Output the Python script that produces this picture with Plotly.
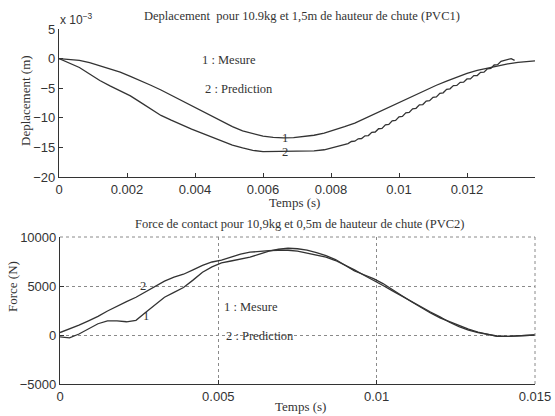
import plotly.graph_objects as go

# ---- Top chart: displacement (x 10^-3 m) ----
t_dep_mes = [0, 0.0003, 0.0006, 0.0009, 0.0012, 0.0015, 0.0018, 0.0021, 0.0024, 0.0027,
             0.003, 0.0033, 0.0036, 0.0039, 0.0042, 0.0045, 0.0048, 0.0051, 0.0054, 0.0057,
             0.006, 0.0063, 0.0066, 0.0069, 0.0072, 0.0075, 0.0078, 0.0081, 0.0084, 0.0087,
             0.009, 0.0093, 0.0096, 0.0099, 0.0102, 0.0105, 0.0108, 0.0111, 0.0114, 0.0117,
             0.012, 0.0123, 0.0126, 0.0129, 0.0132, 0.0135, 0.0138, 0.014]
dep_mes = [0, -0.1, -0.3, -0.7, -1.2, -1.7, -2.3, -3.0, -3.7, -4.5,
           -5.3, -6.2, -7.0, -7.9, -8.8, -9.7, -10.6, -11.5, -12.2, -12.7,
           -13.1, -13.3, -13.4, -13.35, -13.2, -12.95, -12.6, -12.1, -11.5, -10.9,
           -10.1, -9.2, -8.4, -7.6, -6.8, -6.0, -5.2, -4.5, -3.8, -3.1,
           -2.5, -2.0, -1.6, -1.25, -0.9, -0.65, -0.45, -0.4]

t_dep_pred = [0, 0.0003, 0.0006, 0.0009, 0.0012, 0.0015, 0.0018, 0.0021, 0.0024, 0.0027,
              0.003, 0.0033, 0.0036, 0.0039, 0.0042, 0.0045, 0.0048, 0.0051, 0.0054, 0.0057,
              0.006, 0.0065, 0.007, 0.0075, 0.0078, 0.008, 0.0082,
              0.0085, 0.0086, 0.0087, 0.0088, 0.0089, 0.0090, 0.0091, 0.0092, 0.0093, 0.0094,
              0.0095, 0.0096, 0.0097, 0.0098, 0.0099, 0.0100, 0.0101, 0.0102, 0.0103, 0.0104,
              0.0105, 0.0106, 0.0107, 0.0108, 0.0109, 0.0110, 0.0111, 0.0112, 0.0113, 0.0114,
              0.0115, 0.0116, 0.0117, 0.0118, 0.0119, 0.0120, 0.0121, 0.0122, 0.0123, 0.0124,
              0.0125, 0.0126, 0.0127, 0.0128, 0.0129, 0.0130, 0.0131, 0.0132, 0.0133, 0.0134]
dep_pred = [0, -0.7, -1.5, -2.6, -3.7, -4.6, -5.4, -6.3, -7.4, -8.5,
            -9.6, -10.4, -11.2, -11.9, -12.6, -13.3, -14.0, -14.6, -15.1, -15.5,
            -15.7, -15.7, -15.7, -15.6, -15.4, -15.1, -14.8,
            -14.35, -14.0, -13.95, -13.55, -13.5, -13.05, -13.0, -12.45, -12.4, -11.85,
            -11.8, -11.2, -11.12, -10.52, -10.44, -9.84, -9.76, -9.16, -9.08, -8.48,
            -8.4, -7.82, -7.76, -7.18, -7.12, -6.54, -6.46, -5.86, -5.78, -5.18,
            -5.1, -4.56, -4.54, -4.0, -3.98, -3.44, -3.42, -2.88, -2.86, -2.32,
            -2.3, -1.72, -1.66, -1.08, -1.02, -0.45, -0.30, -0.05, 0.0, -0.3]

dep_xticks = [0, 0.002, 0.004, 0.006, 0.008, 0.010, 0.012]
dep_xtext = ["0", "0.002", "0.004", "0.006", "0.008", "0.01", "0.012"]
dep_yticks = [-20, -15, -10, -5, 0, 5]
dep_ytext = ["−20", "−15", "−10", "−5", "0", "5"]

# ---- Bottom chart: contact force (N) ----
t_force = [0, 0.0003, 0.0006, 0.0009, 0.0012, 0.0015, 0.0018, 0.0021, 0.0024, 0.0027,
           0.003, 0.0033, 0.0036, 0.0039, 0.0042, 0.0045, 0.0048, 0.0051, 0.0054, 0.0057,
           0.006, 0.0063, 0.0066, 0.0069, 0.0072, 0.0075, 0.0078, 0.0081, 0.0084, 0.0087,
           0.009, 0.0093, 0.0096, 0.0099, 0.0102, 0.0105, 0.0108, 0.0111, 0.0114, 0.0117,
           0.012, 0.0123, 0.0126, 0.0129, 0.0132, 0.0135, 0.0138, 0.0141, 0.0145, 0.015]
force_mes = [-200, -300, 100, 600, 1150, 1450, 1450, 1350, 1500, 2300,
             3100, 3850, 4350, 4850, 5600, 6400, 6950, 7350, 7550, 7750,
             7950, 8250, 8550, 8750, 8850, 8800, 8650, 8400, 8100, 7700,
             7150, 6550, 6150, 5750, 5250, 4600, 4000, 3400, 2800, 2250,
             1750, 1350, 950, 600, 300, 50, -150, -150, -50, 0]
force_pred = [250, 600, 1000, 1450, 1900, 2450, 2950, 3400, 3850, 4400,
              5000, 5500, 5900, 6200, 6650, 7100, 7450, 7650, 7950, 8250,
              8450, 8550, 8600, 8650, 8650, 8550, 8350, 8150, 7950, 7600,
              7150, 6650, 6100, 5600, 5050, 4500, 3950, 3450, 2900, 2350,
              1850, 1300, 850, 500, 250, 50, -100, -150, -50, 0]

force_xticks = [0, 0.005, 0.010, 0.015]
force_xtext = ["0", "0.005", "0.01", "0.015"]
force_yticks = [-5000, 0, 5000, 10000]
force_ytext = ["−5000", "0", "5000", "10000"]

INK = "#333333"
SERIF = "Liberation Serif"
SANS = "Liberation Sans"

fig = go.Figure()
line_style = dict(color=INK, width=1.3)
fig.add_trace(go.Scatter(x=t_dep_mes, y=dep_mes, mode="lines", line=line_style, xaxis="x", yaxis="y"))
fig.add_trace(go.Scatter(x=t_dep_pred, y=dep_pred, mode="lines", line=line_style, xaxis="x", yaxis="y"))
fig.add_trace(go.Scatter(x=t_force, y=force_mes, mode="lines", line=line_style, xaxis="x2", yaxis="y2"))
fig.add_trace(go.Scatter(x=t_force, y=force_pred, mode="lines", line=line_style, xaxis="x2", yaxis="y2"))

W, H = 555, 416
def px(x):
    return x / W
def py(y):
    return 1 - y / H

axis_common = dict(showline=True, linecolor=INK, linewidth=1.2, ticks="inside", ticklen=4,
                   tickcolor=INK, tickfont=dict(family=SANS, size=13, color=INK),
                   zeroline=False, fixedrange=True, automargin=False)
GRID = "#8a8a8a"

fig.update_layout(
    width=W, height=H, margin=dict(l=0, r=0, t=0, b=0),
    paper_bgcolor="white", plot_bgcolor="white", showlegend=False,
    xaxis=dict(domain=[px(59), px(535)], range=[0, 0.014], anchor="y",
               tickvals=dep_xticks, ticktext=dep_xtext, showgrid=False,
               **axis_common),
    yaxis=dict(domain=[py(177), py(29)], range=[-20, 5], anchor="x",
               tickvals=dep_yticks, ticktext=dep_ytext, showgrid=False,
               **axis_common),
    xaxis2=dict(domain=[px(60), px(535)], range=[0, 0.015], anchor="y2",
                tickvals=force_xticks, ticktext=force_xtext, showgrid=True,
                gridcolor=GRID, griddash="dot", gridwidth=1,
                **axis_common),
    yaxis2=dict(domain=[py(384), py(237)], range=[-5000, 10000], anchor="x2",
                tickvals=force_yticks, ticktext=force_ytext, showgrid=True,
                gridcolor=GRID, griddash="dot", gridwidth=1,
                **axis_common),
)

# dotted frame edges of the lower chart (top and right), like its grid
fig.add_shape(type="line", xref="x2 domain", yref="y2 domain", x0=0, x1=1, y0=1, y1=1,
              line=dict(color=GRID, width=1, dash="dot"))
fig.add_shape(type="line", xref="x2 domain", yref="y2 domain", x0=1, x1=1, y0=0, y1=1,
              line=dict(color=GRID, width=1, dash="dot"))

small_font = dict(family=SERIF, size=12.5, color=INK)
label_font = dict(family=SERIF, size=13, color=INK)
annotations = [
    dict(text="Deplacement  pour 10.9kg et 1,5m de hauteur de chute (PVC1)", xref="paper", yref="paper",
         x=px(302), y=py(16), xanchor="center", yanchor="middle", showarrow=False, font=small_font),
    dict(text="x 10<sup>−3</sup>", xref="paper", yref="paper", x=px(58), y=py(19),
         xanchor="left", yanchor="middle", showarrow=False, font=dict(family=SANS, size=12, color=INK)),
    dict(text="Deplacement (m)", xref="paper", yref="paper", x=px(25), y=py(101),
         xanchor="center", yanchor="middle", textangle=-90, showarrow=False, font=label_font),
    dict(text="Temps (s)", xref="paper", yref="paper", x=px(294), y=py(202),
         xanchor="center", yanchor="middle", showarrow=False, font=label_font),
    dict(text="1 : Mesure", xref="paper", yref="paper", x=px(200), y=py(60),
         xanchor="left", yanchor="middle", showarrow=False, font=small_font),
    dict(text="2 : Prediction", xref="paper", yref="paper", x=px(203), y=py(89),
         xanchor="left", yanchor="middle", showarrow=False, font=small_font),
    dict(text="1", xref="x", yref="y", x=0.00665, y=-13.4, xanchor="center", yanchor="middle",
         showarrow=False, font=small_font),
    dict(text="2", xref="x", yref="y", x=0.00665, y=-15.7, xanchor="center", yanchor="middle",
         showarrow=False, font=small_font),
    dict(text="Force de contact pour 10,9kg et 0,5m de hauteur de chute (PVC2)", xref="paper", yref="paper",
         x=px(299), y=py(224), xanchor="center", yanchor="middle", showarrow=False, font=small_font),
    dict(text="Force (N)", xref="paper", yref="paper", x=px(12), y=py(287),
         xanchor="center", yanchor="middle", textangle=-90, showarrow=False, font=label_font),
    dict(text="Temps (s)", xref="paper", yref="paper", x=px(300), y=py(406),
         xanchor="center", yanchor="middle", showarrow=False, font=label_font),
    dict(text="1 : Mesure", xref="paper", yref="paper", x=px(222), y=py(307),
         xanchor="left", yanchor="middle", showarrow=False, font=small_font),
    dict(text="2 : Prediction", xref="paper", yref="paper", x=px(224), y=py(336),
         xanchor="left", yanchor="middle", showarrow=False, font=small_font),
    dict(text="2", xref="x2", yref="y2", x=0.00263, y=5000, xanchor="center", yanchor="middle",
         showarrow=False, font=small_font),
    dict(text="1", xref="x2", yref="y2", x=0.0027, y=1900, xanchor="center", yanchor="middle",
         showarrow=False, font=small_font),
]
fig.update_layout(annotations=annotations)

# remove the page's default body margin so the 555x416 figure fills the window exactly
fig.write_html("out.html",
               config={"displayModeBar": False},
               post_script="document.body.style.margin='0';document.body.style.overflow='hidden';")
